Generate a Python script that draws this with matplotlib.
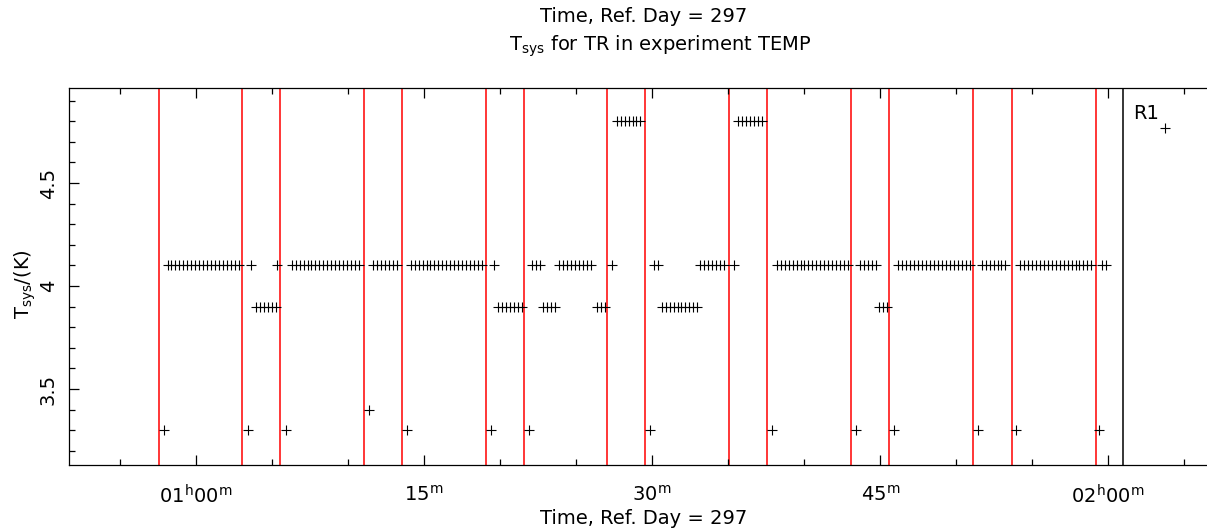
import matplotlib
matplotlib.use('Agg')
from matplotlib import pyplot as plt
from matplotlib.ticker import MultipleLocator, FixedLocator
import numpy as np

# times are in minutes after 00h on ref. day 297
scan_edges = [57.55, 63.05, 65.55, 71.03, 73.55, 79.06, 81.56, 87.04,
              89.56, 95.05, 97.57, 103.07, 105.59, 111.13, 113.65, 119.20]
panel_edge = 121.0

# first sample of each scan (the low ones)
first_t = [57.88, 63.42, 65.89, 71.35, 73.89, 79.41, 81.91, 89.89,
           97.91, 103.39, 105.93, 111.41, 113.91, 119.41]
first_tsys = [3.3, 3.3, 3.3, 3.4, 3.3, 3.3, 3.3, 3.3,
              3.3, 3.3, 3.3, 3.3, 3.3, 3.3]

# runs of equal Tsys, sampled every SAMPLE_MIN minutes
SAMPLE_MIN = 0.26
run_start = [58.12, 63.60, 63.93, 65.31, 66.29, 71.66, 74.12, 79.63, 79.89,
             82.11, 82.85, 83.88, 86.36, 87.37, 87.67, 90.11, 90.63, 93.16,
             95.39, 95.68, 98.20, 103.68, 104.91, 106.20, 111.68, 114.21, 119.62]
run_count = [19, 1, 6, 1, 18, 7, 19, 1, 7,
             3, 4, 9, 3, 1, 7, 2, 10, 7,
             1, 7, 19, 5, 3, 19, 7, 19, 2]
run_tsys = [4.1, 4.1, 3.9, 4.1, 4.1, 4.1, 4.1, 4.1, 3.9,
            4.1, 3.9, 4.1, 3.9, 4.1, 4.8, 4.1, 3.9, 4.1,
            4.1, 4.8, 4.1, 4.1, 3.9, 4.1, 4.1, 4.1, 4.1]

# reference point in the R1 panel
r1_t = [123.77]
r1_tsys = [4.767]

tick_pos = [60, 75, 90, 105, 120]
tick_txt = [r'01$^{h}$00$^{m}$', r'15$^{m}$', r'30$^{m}$', r'45$^{m}$', r'02$^{h}$00$^{m}$']
ytick_pos = [3.5, 4.0, 4.5]
ytick_txt = ['3.5', '4', '4.5']

plt.rcParams['font.family'] = ['Liberation Sans Narrow', 'DejaVu Sans']
plt.rcParams['mathtext.default'] = 'regular'

fig = plt.figure(figsize=(12.07, 5.31), dpi=100)
ax = fig.add_axes([69 / 1207, 66 / 531, 1 - 69 / 1207, 377 / 531])

for x in scan_edges:
    ax.axvline(x, color='#ff0000', lw=1.1, zorder=1)
ax.axvline(panel_edge, color='black', lw=1.1, zorder=1)

xs = []
ys = []
for t0, n, v in zip(run_start, run_count, run_tsys):
    for k in range(n):
        xs.append(t0 + k * SAMPLE_MIN)
        ys.append(v)
xs = np.array(xs + first_t + r1_t)
ys = np.array(ys + first_tsys + r1_tsys)
ax.plot(xs, ys, ls='none', marker='+', ms=6.5, mew=0.8, color='black', zorder=3)

ax.text(121.64, 4.835, 'R1', fontsize=14, va='center', ha='left')

ax.set_xlim(51.64, 126.5)
ax.set_ylim(3.131, 4.961)

ax.xaxis.set_major_locator(FixedLocator(tick_pos))
ax.set_xticklabels(tick_txt, fontsize=14)
ax.xaxis.set_minor_locator(MultipleLocator(5))
ax.yaxis.set_major_locator(FixedLocator(ytick_pos))
ax.set_yticklabels(ytick_txt, fontsize=14, rotation=90, va='center')
ax.yaxis.set_minor_locator(MultipleLocator(0.1))

ax.tick_params(which='both', direction='in', top=True, right=False, width=0.9)
ax.tick_params(which='major', length=7)
ax.tick_params(which='minor', length=4)
ax.tick_params(axis='x', which='major', pad=14)
ax.tick_params(axis='y', which='major', pad=8)
ax.spines['right'].set_visible(False)
for s in ['left', 'top', 'bottom']:
    ax.spines[s].set_linewidth(0.9)

fig.text(644 / 1207, 1 - 17 / 531, 'Time, Ref. Day = 297', fontsize=14, ha='center', va='center')
fig.text(660 / 1207, 1 - 46 / 531, r'T$_{sys}$ for TR in experiment TEMP', fontsize=14,
         ha='center', va='center')
fig.text(644 / 1207, 1 - 519 / 531, 'Time, Ref. Day = 297', fontsize=14, ha='center', va='center')
fig.text(25 / 1207, 1 - 284 / 531, r'T$_{sys}$/(K)', fontsize=14, rotation=90,
         ha='center', va='center')

fig.savefig('out.png', dpi=100)
